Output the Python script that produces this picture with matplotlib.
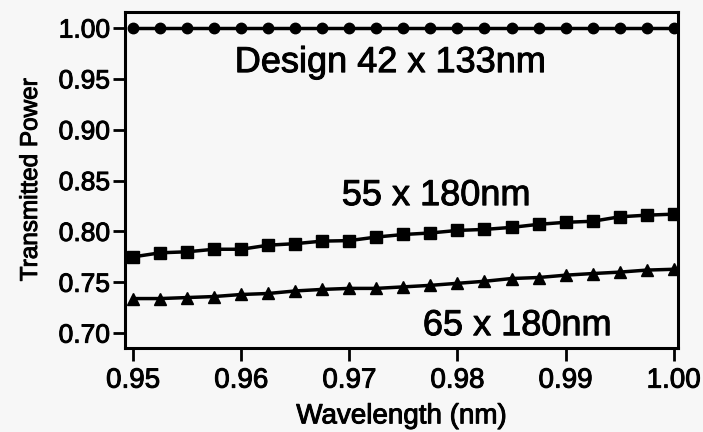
import matplotlib
matplotlib.use("Agg")
import matplotlib.pyplot as plt
import matplotlib.patheffects as pe
import numpy as np

# wavelength samples (21 points)
wavelength = np.linspace(0.95, 1.00, 21)

design_42x133 = [1.000] * 21
size_55x180 = [0.775, 0.779, 0.780, 0.7825, 0.7825, 0.7865, 0.788, 0.7905, 0.791, 0.7945,
               0.797, 0.7985, 0.801, 0.802, 0.804, 0.807, 0.809, 0.810, 0.8144, 0.816, 0.817]
size_65x180 = [0.734, 0.734, 0.735, 0.736, 0.738, 0.739, 0.7415, 0.743, 0.744, 0.744,
               0.7455, 0.747, 0.749, 0.751, 0.7537, 0.7547, 0.757, 0.7586, 0.760, 0.762, 0.7628]

xticks = [0.95, 0.96, 0.97, 0.98, 0.99, 1.00]
yticks = [0.70, 0.75, 0.80, 0.85, 0.90, 0.95, 1.00]

plt.rcParams['font.family'] = ['Liberation Sans', 'DejaVu Sans']

bg = '#f7f7f7'
# slight stroke to mimic the heavier scanned lettering
bold = [pe.withStroke(linewidth=0.7, foreground='black')]

fig = plt.figure(figsize=(7.03, 4.32), dpi=100, facecolor=bg)
ax = fig.add_axes([0.178, 0.194, 0.786, 0.778], facecolor=bg)

ax.plot(wavelength, design_42x133, color='black', lw=2.5, marker='o', markersize=7.5)
ax.plot(wavelength, size_55x180, color='black', lw=2.5, marker='s', markersize=8)
ax.plot(wavelength, size_65x180, color='black', lw=2.5, marker='^', markersize=9)

ax.set_xlim(0.94926, 1.00037)
ax.set_ylim(0.6852, 1.0157)
ax.set_xticks(xticks)
ax.set_xticklabels([f"{v:.2f}" for v in xticks])
ax.set_yticks(yticks)
ax.set_yticklabels([f"{v:.2f}" for v in yticks])

for s in ax.spines.values():
    s.set_linewidth(2.2)
ax.tick_params(axis='x', direction='out', length=9, width=2, labelsize=20, pad=5)
ax.tick_params(axis='y', direction='out', length=9, width=2, labelsize=19, pad=2)
for lab in ax.get_xticklabels() + ax.get_yticklabels():
    lab.set_path_effects(bold)

ax.set_xlabel("Wavelength (nm)", fontsize=20, labelpad=7, path_effects=bold)
ax.set_ylabel("Transmitted Power", fontsize=17.5, labelpad=12, path_effects=bold)

ax.text(0.9594, 0.9567, "Design 42 x 133nm", fontsize=26, ha='left', va='baseline', path_effects=bold)
ax.text(0.9693, 0.8259, "55 x 180nm", fontsize=26, ha='left', va='baseline', path_effects=bold)
ax.text(0.9768, 0.698, "65 x 180nm", fontsize=26, ha='left', va='baseline', path_effects=bold)

fig.savefig("out.png", dpi=100, facecolor=bg)
